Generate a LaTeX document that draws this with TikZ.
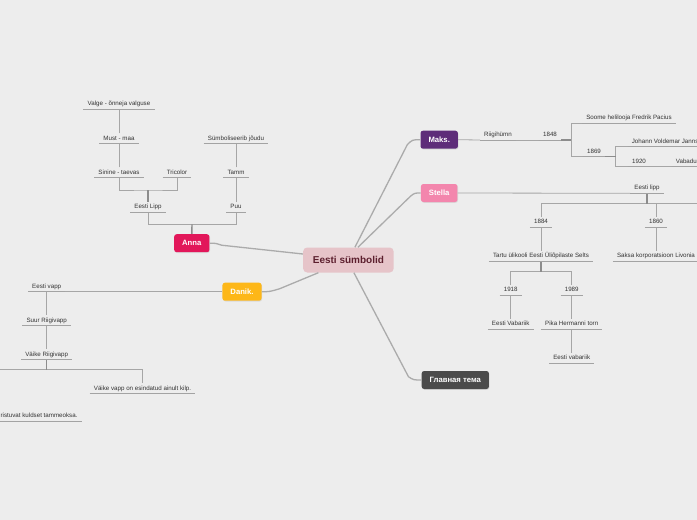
\documentclass[tikz,border=0pt]{standalone}
\usepackage{fontspec}
\setmainfont{Liberation Sans}
\usetikzlibrary{shadows}
\definecolor{bgcol}{HTML}{EDEDED}
\definecolor{leaftext}{HTML}{333333}
\definecolor{ulinegray}{HTML}{A3A3A3}
\definecolor{conngray}{HTML}{A6A6A6}
\definecolor{stubgray}{HTML}{8C8C8C}
\definecolor{trunkgray}{HTML}{ABABAB}
\definecolor{rootpink}{HTML}{E6C4C9}
\definecolor{rootink}{HTML}{5C1F2E}
\definecolor{maksviolet}{HTML}{5E2D79}
\definecolor{stellapink}{HTML}{F386AD}
\definecolor{glavgray}{HTML}{4B4B4B}
\definecolor{annared}{HTML}{E2175A}
\definecolor{danikamber}{HTML}{FDB718}
\tikzset{
  every node/.style={font=\fontsize{6.2}{7.4}\selectfont,text=leaftext},
  topic/.style={rounded corners=2.5pt,minimum height=18pt,inner xsep=8pt,text=white,
    font=\bfseries\fontsize{7.7}{9}\selectfont,
    drop shadow={shadow xshift=.6pt,shadow yshift=-.8pt,opacity=.18}},
  leaf/.style={anchor=south,inner xsep=4pt,inner ysep=2pt,text height=4.6pt,text depth=1.3pt},
  uline/.style={draw=ulinegray,line width=.8pt},
  conn/.style={draw=conngray,line width=.8pt},
  stub/.style={draw=stubgray,line width=1.4pt},
  trunk/.style={draw=trunkgray,line width=1.3pt}
}

\begin{document}
\begin{tikzpicture}[x=1pt,y=-1pt]
  \path[use as bounding box] (0,0) rectangle (697,520);
  \fill[bgcol] (0,0) rectangle (697,520);
  \clip (0,0) rectangle (697,520);

  % central topic and main branches
  \node[rounded corners=4pt,fill=rootpink,text=rootink,minimum height=25pt,inner xsep=9.7pt,
    font=\bfseries\fontsize{10}{12}\selectfont] (root) at (348.4,260) {Eesti sümbolid};
  \node[topic,fill=maksviolet] (maks) at (439.2,139.7) {Maks.};
  \node[topic,fill=stellapink] (stella) at (439.2,193) {Stella};
  \node[topic,fill=glavgray] (glav) at (455.3,380) {Главная тема};
  \node[topic,fill=annared] (anna) at (191.8,243.2) {Anna};
  \node[topic,fill=danikamber] (danik) at (242,291.7) {Danik.};

  \draw[trunk] ([xshift=6.5pt]root.north) -- ([xshift=-13pt,yshift=-5pt]maks.west)
    .. controls ([xshift=-8pt]maks.west) .. (maks.west);
  \draw[trunk] ([xshift=9.5pt]root.north) -- ([xshift=-10pt,yshift=-3pt]stella.west)
    .. controls ([xshift=-6pt]stella.west) .. (stella.west);
  \draw[trunk] ([xshift=5.5pt]root.south) -- ([xshift=-13pt,yshift=3.3pt]glav.west)
    .. controls ([xshift=-8pt]glav.west) .. (glav.west);
  \draw[trunk] ([yshift=6pt]root.west) -- ([xshift=12pt,yshift=-2pt]anna.east)
    .. controls ([xshift=6pt]anna.east) .. (anna.east);
  \draw[trunk] ([xshift=-30pt]root.south) -- ([xshift=18pt,yshift=3pt]danik.east)
    .. controls ([xshift=8pt]danik.east) .. (danik.east);

  % Anna
  \node[leaf] (valge) at (119,109.3) {Valge - õnneja valguse};
  \node[leaf] (must) at (119,143.7) {Must - maa};
  \node[leaf] (sinine) at (119,177.7) {Sinine - taevas};
  \node[leaf] (tricolor) at (177,177.7) {Tricolor};
  \node[leaf] (lipp) at (148,212.3) {Eesti Lipp};
  \node[leaf] (sumb) at (236,143.7) {Sümboliseerib jõudu};
  \node[leaf] (tamm) at (236,177.7) {Tamm};
  \node[leaf] (puu) at (236,212.3) {Puu};
  \coordinate (annab) at (192,224.3);
  \coordinate (lippb) at (148,190);
  \draw[conn] (lipp.south) |- (annab) -| (puu.south);
  \draw[conn] (sinine.south) |- (lippb) -| (tricolor.south);
  \draw[conn] (sinine.north) -- (must.south);
  \draw[conn] (must.north) -- (valge.south);
  \draw[conn] (puu.north) -- (tamm.south);
  \draw[conn] (tamm.north) -- (sumb.south);
  \draw[stub] (anna.north) -- (annab);
  \draw[stub] (lipp.north) -- (lippb);

  % Danik.
  \node[leaf] (evapp) at (46.7,291.7) {Eesti vapp};
  \node[leaf] (suur) at (46.7,325.7) {Suur Riigivapp};
  \node[leaf] (vaike) at (46.7,359.7) {Väike Riigivapp};
  \node[leaf] (kilp) at (142.5,393.7) {Väike vapp on esindatud ainult kilp.};
  \node[leaf,anchor=south east] (tamme) at (81.7,421)
    {Suure riigivapi kilpi ümbritsevad kaks ristuvat kuldset tammeoksa.};
  \coordinate (vaikeb) at (46.7,369.7);
  \draw[conn] (danik.west) -- (evapp.south east);
  \draw[conn] (evapp.south) -- (suur.north);
  \draw[conn] (suur.south) -- (vaike.north);
  \draw[conn] (tamme.north) |- (vaikeb) -| (kilp.north);
  \draw[stub] (vaike.south) -- (vaikeb);

  % Maks.
  \node[leaf] (riig) at (498,140) {Riigihümn};
  \node[leaf] (y1848) at (550,140) {1848};
  \node[leaf] (pacius) at (629,123.3) {Soome helilooja Fredrik Pacius};
  \node[leaf] (y1869) at (594,156.7) {1869};
  \node[leaf] (jannsen) at (668.6,146.7) {Johann Voldemar Jannsen};
  \node[leaf] (y1920) at (639,166.7) {1920};
  \node[leaf,anchor=south west] (vabadus) at (671.7,166.7) {Vabadussõda};
  \coordinate (mb) at (571,140);
  \coordinate (nb) at (615.7,156.7);
  \draw[conn] (maks.east) -- (riig.south west);
  \draw[conn] (riig.south east) -- (y1848.south west);
  \draw[conn] (pacius.south west) -| (mb);
  \draw[conn] (y1869.south west) -| (mb);
  \draw[conn] (jannsen.south west) -| (nb);
  \draw[conn] (y1920.south west) -| (nb);
  \draw[conn] (y1920.south east) -- (vabadus.south west);
  \draw[stub] (y1848.south east) -- (mb);
  \draw[stub] (y1869.south east) -- (nb);

  % Stella
  \node[leaf] (elipp) at (647,193.3) {Eesti lipp};
  \node[leaf] (y1884) at (541,227.3) {1884};
  \node[leaf] (y1860) at (656,227.3) {1860};
  \node[leaf] (tartu) at (541,261.3) {Tartu ülikooli Eesti Üliõpilaste Selts};
  \node[leaf] (saksa) at (656,261.3) {Saksa korporatsioon Livonia};
  \node[leaf] (y1918) at (510.7,295.3) {1918};
  \node[leaf] (y1989) at (571.7,295.3) {1989};
  \node[leaf] (vabariik) at (510.7,329.3) {Eesti Vabariik};
  \node[leaf] (pika) at (571.7,329.3) {Pika Hermanni torn};
  \node[leaf] (evab) at (571.7,363.3) {Eesti vabariik};
  \coordinate (sb) at (647,203.7);
  \coordinate (stellaoff) at (705,203.7);
  \coordinate (tb) at (541,271.5);
  \draw[conn] (stella.east) -- (elipp.south west);
  \draw[conn] (y1884.north) |- (stellaoff);
  \draw[conn] (y1860.north) |- (sb);
  \draw[conn] (y1884.south) -- (tartu.north);
  \draw[conn] (y1860.south) -- (saksa.north);
  \draw[conn] (y1918.north) |- (tb) -| (y1989.north);
  \draw[conn] (y1918.south) -- (vabariik.north);
  \draw[conn] (y1989.south) -- (pika.north);
  \draw[conn] (pika.south) -- (evab.north);
  \draw[stub] (elipp.south) -- (sb);
  \draw[stub] (tartu.south) -- (tb);

  % underlines of the subtopics
  \foreach \n in {valge,must,sinine,tricolor,lipp,sumb,tamm,puu,
    evapp,suur,vaike,kilp,tamme,
    riig,y1848,pacius,y1869,jannsen,y1920,vabadus,
    elipp,y1884,y1860,tartu,saksa,y1918,y1989,vabariik,pika,evab}
    \draw[uline] (\n.south west) -- (\n.south east);
\end{tikzpicture}
\end{document}
